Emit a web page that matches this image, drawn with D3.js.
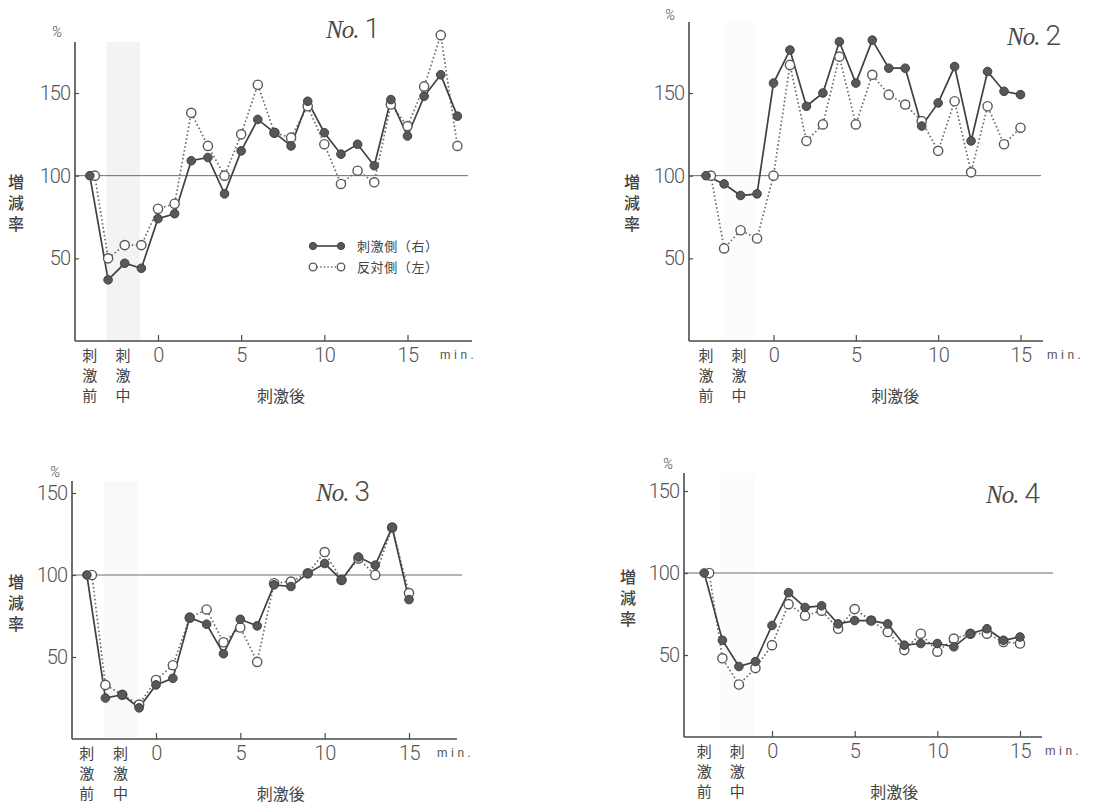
<!DOCTYPE html>
<html><head><meta charset="utf-8">
<script src="https://cdn.jsdelivr.net/npm/d3@7"></script>
<style>
body{margin:0;background:#fff}
svg{display:block}
.vt{writing-mode:vertical-rl;text-orientation:upright}
</style></head><body>
<svg id="c" width="1097" height="808"></svg>
<script>
// ---------- data ----------
const stimLabels = ["刺激前", "刺激中"];
const afterLabel = "刺激後";
const yAxisLabel = "増減率";
const unitLabel = "%";
const timeUnit = "min.";
const xTickValues = [0, 5, 10, 15];
const yTickValues = [50, 100, 150];
const refValue = 100;
const seriesNames = ["刺激側（右）", "反対側（左）"];
const panelNumbers = ["1", "2", "3", "4"];

const stimXFilled = [-4.1, -3, -2, -1];   // 刺激前, 刺激中 ×3
const stimXOpen   = [-3.8, -3, -2, -1];
const stimBand    = [-3.1, -1.1];
const labelX      = [-4.1, -2.1];
const afterLabelX = 7.4;

const post18 = [0,1,2,3,4,5,6,7,8,9,10,11,12,13,14,15,16,17,18];
const post15 = [0,1,2,3,4,5,6,7,8,9,10,11,12,13,14,15];

const p1Filled = [100,37,47,44, 74,77,109,111,89,115,134,126,118,145,126,113,119,106,146,124,148,161,136];
const p1Open   = [100,50,58,58, 80,83,138,118,100,125,155,126,123,142,119,95,103,96,143,130,154,185,118];

const p2Filled = [100,95,88,89, 156,176,142,150,181,156,182,165,165,130,144,166,121,163,151,149];
const p2Open   = [100,56,67,62, 100,167,121,131,172,131,161,149,143,133,115,145,102,142,119,129];

const p3Filled = [100,25,27,19, 33,37,74,70,52,73,69,94,93,101,107,97,111,106,129,85];
const p3Open   = [100,33,27,21, 36,45,74,79,59,68,47,95,96,101,114,97,110,100,129,89];

const p4Filled = [100,59,43,46, 68,88,79,80,69,71,71,69,56,57,57,55,63,66,59,61];
const p4Open   = [100,48,32,42, 56,81,74,77,66,78,71,64,53,63,52,60,63,63,58,57];

// ---------- layout ----------
const panels = [
  {num: panelNumbers[0], post: post18, filled: p1Filled, open: p1Open,
   x0:158, x15:407.5, yB:341, y150:93, axL:75, axR:472, axT:42, refR:468,
   title:[326,38], pct:[57,37], yl:[16,182], minX:440, band:"#f3f3f3", legend:true},
  {num: panelNumbers[1], post: post15, filled: p2Filled, open: p2Open,
   x0:773.5, x15:1020.5, yB:341, y150:93, axL:689, axR:1043, axT:22, refR:1041,
   title:[1007,45], pct:[670,20], yl:[632,182], minX:1047, band:"#fcfcfc"},
  {num: panelNumbers[2], post: post15, filled: p3Filled, open: p3Open,
   x0:156, x15:409, yB:739, y150:493, axL:72, axR:457, axT:481, refR:462,
   title:[316,501], pct:[55,477], yl:[16,582], minX:437, band:"#f9f9f9"},
  {num: panelNumbers[3], post: post15, filled: p4Filled, open: p4Open,
   x0:772, x15:1020, yB:737, y150:491, axL:684, axR:1042, axT:473, refR:1053,
   title:[986,503], pct:[668,469], yl:[628,577], minX:1045, band:"#fcfcfc"}
];

const svg = d3.select("#c");
const NUMFONT = "Roboto, 'DejaVu Sans', sans-serif";
const CJKFONT = "'Noto Sans CJK JP', 'Noto Sans CJK SC', sans-serif";
const AX = "#4a4d4a";

function verticalText(g, str, cx, firstCenterY, size, pitch, weight) {
  g.append("text").attr("class", "vt")
    .attr("x", cx).attr("y", firstCenterY - size / 2)
    .attr("font-family", CJKFONT).attr("font-size", size).attr("font-weight", weight)
    .attr("letter-spacing", pitch - size).attr("fill", "#444").text(str);
}

function drawPanel(c) {
  const x = d3.scaleLinear().domain([0, 15]).range([c.x0, c.x15]);
  const y = d3.scaleLinear().domain([0, 150]).range([c.yB, c.y150]);
  const g = svg.append("g");

  // stimulation band
  g.append("rect")
    .attr("x", x(stimBand[0])).attr("width", x(stimBand[1]) - x(stimBand[0]))
    .attr("y", c.axT).attr("height", c.yB - c.axT)
    .attr("fill", c.band);

  // reference line
  g.append("line")
    .attr("x1", c.axL).attr("x2", c.refR)
    .attr("y1", y(refValue)).attr("y2", y(refValue))
    .attr("stroke", "#6a6d6a").attr("stroke-width", 1);

  // axis lines
  g.append("line").attr("x1", c.axL).attr("x2", c.axL).attr("y1", c.axT).attr("y2", c.yB)
    .attr("stroke", AX).attr("stroke-width", 1.6);
  g.append("line").attr("x1", c.axL).attr("x2", c.axR).attr("y1", c.yB).attr("y2", c.yB)
    .attr("stroke", AX).attr("stroke-width", 1.6);

  // y axis ticks
  const ya = g.append("g").attr("transform", `translate(${c.axL},0)`)
    .call(d3.axisLeft(y).tickValues(yTickValues).tickSizeInner(-4).tickSizeOuter(0).tickPadding(5));
  ya.select(".domain").remove();
  ya.selectAll(".tick line").attr("stroke", AX).attr("stroke-width", 1.2);
  ya.selectAll(".tick text").attr("font-family", NUMFONT).attr("font-weight", 300)
    .attr("font-size", 20).attr("fill", "#555").attr("letter-spacing", -1);

  // x axis ticks
  const xa = g.append("g").attr("transform", `translate(0,${c.yB})`)
    .call(d3.axisBottom(x).tickValues(xTickValues).tickSizeInner(-6).tickSizeOuter(0).tickPadding(7));
  xa.select(".domain").remove();
  xa.selectAll(".tick line").attr("stroke", AX).attr("stroke-width", 1.2);
  xa.selectAll(".tick text").attr("font-family", NUMFONT).attr("font-weight", 300)
    .attr("font-size", 20).attr("fill", "#555").attr("letter-spacing", -0.5);

  // min.
  g.append("text").attr("x", c.minX).attr("y", c.yB + 18)
    .attr("font-family", NUMFONT).attr("font-size", 12).attr("fill", "#555")
    .attr("letter-spacing", 3.5).text(timeUnit);

  // %
  g.append("text").attr("x", c.pct[0]).attr("y", c.pct[1]).attr("text-anchor", "middle")
    .attr("font-family", NUMFONT).attr("font-style", "italic").attr("font-weight", 300)
    .attr("font-size", 15).attr("fill", "#555").text(unitLabel);

  // vertical y label
  verticalText(g, yAxisLabel, c.yl[0], c.yl[1], 16, 21, 500);

  // phase labels (vertical)
  stimLabels.forEach((lab, k) => verticalText(g, lab, x(labelX[k]), c.yB + 14, 15, 20, 400));
  g.append("text").attr("x", x(afterLabelX)).attr("y", c.yB + 55).attr("dy", "0.36em")
    .attr("text-anchor", "middle").attr("font-family", CJKFONT).attr("font-size", 16)
    .attr("fill", "#444").text(afterLabel);

  // title
  const t = g.append("text").attr("x", c.title[0]).attr("y", c.title[1]).attr("fill", "#4a4a4a");
  t.append("tspan").attr("font-family", "'Liberation Serif', serif").attr("font-style", "italic")
    .attr("font-size", 25).attr("letter-spacing", -1).text("No.");
  t.append("tspan").attr("dx", 6).attr("font-family", NUMFONT).attr("font-weight", 300)
    .attr("font-size", 28).text(c.num);

  // series
  const xsF = stimXFilled.concat(c.post);
  const xsO = stimXOpen.concat(c.post);
  const ptsF = c.filled.map((v, i) => [x(xsF[i]), y(v)]);
  const ptsO = c.open.map((v, i) => [x(xsO[i]), y(v)]);
  const line = d3.line();

  g.append("path").attr("d", line(ptsO)).attr("fill", "none")
    .attr("stroke", "#6b6e6b").attr("stroke-width", 1.7).attr("stroke-dasharray", "1.6,2.4");
  g.append("path").attr("d", line(ptsF)).attr("fill", "none")
    .attr("stroke", "#3e433e").attr("stroke-width", 1.7);

  g.selectAll(null).data(ptsO).enter().append("circle")
    .attr("cx", d => d[0]).attr("cy", d => d[1]).attr("r", 4.6)
    .attr("fill", "#fff").attr("stroke", "#555a55").attr("stroke-width", 1.4);
  g.selectAll(null).data(ptsF).enter().append("circle")
    .attr("cx", d => d[0]).attr("cy", d => d[1]).attr("r", 4.3)
    .attr("fill", "#555a55").attr("stroke", "#3e433e").attr("stroke-width", 1);

  if (c.legend) {
    const lg = g.append("g");
    const rows = [246, 267];
    const lx = [313, 341];
    lg.append("line").attr("x1", lx[0]).attr("x2", lx[1]).attr("y1", rows[0]).attr("y2", rows[0])
      .attr("stroke", "#3e433e").attr("stroke-width", 1.6);
    lx.forEach(v => lg.append("circle").attr("cx", v).attr("cy", rows[0]).attr("r", 3.6)
      .attr("fill", "#555a55").attr("stroke", "#3e433e"));
    lg.append("line").attr("x1", lx[0]).attr("x2", lx[1]).attr("y1", rows[1]).attr("y2", rows[1])
      .attr("stroke", "#6b6e6b").attr("stroke-width", 1.5).attr("stroke-dasharray", "1.4,2.2");
    lx.forEach(v => lg.append("circle").attr("cx", v).attr("cy", rows[1]).attr("r", 3.8)
      .attr("fill", "#fff").attr("stroke", "#555a55").attr("stroke-width", 1.3));
    seriesNames.forEach((s, i) => lg.append("text").attr("x", 357).attr("y", rows[i]).attr("dy", "0.36em")
      .attr("font-family", CJKFONT).attr("font-size", 13).attr("fill", "#444")
      .attr("letter-spacing", 0.6).text(s));
  }
}

panels.forEach(drawPanel);
</script>
</body></html>
